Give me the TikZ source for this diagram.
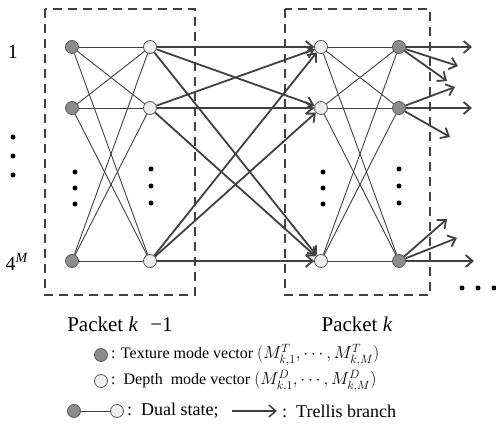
\documentclass[tikz,border=0pt]{standalone}
\usepackage{fontspec}
\setmainfont{Liberation Serif}
\usetikzlibrary{arrows.meta}
\begin{document}
\begin{tikzpicture}[x=1pt,y=-1pt,
  dnode/.style={circle,draw=black!65,fill=black!45,minimum size=13pt,inner sep=0pt,line width=0.8pt},
  lnode/.style={circle,draw=black!65,fill=black!7,minimum size=13pt,inner sep=0pt,line width=0.8pt},
  tedge/.style={draw=black!75,line width=0.9pt},
  bedge/.style={draw=black!75,line width=1.8pt,-{Straight Barb[length=7pt,width=12pt]}},
  pbox/.style={draw=black!75,dash pattern=on 9pt off 6pt,line width=1.5pt},
  vdot/.style={circle,fill=black,inner sep=0pt,minimum size=5pt},
  big/.style={font=\fontsize{20}{22}\selectfont},
  pk/.style={font=\fontsize{21}{23}\selectfont},
  leg/.style={font=\fontsize{16}{18}\selectfont,anchor=west,inner sep=0pt},
  legb/.style={font=\fontsize{18}{20}\selectfont,anchor=west,inner sep=0pt},
]
\useasboundingbox (0,0) rectangle (496,438);
% packet boxes
\draw[pbox] (45,9) rectangle (195,295);
\draw[pbox] (285,9) rectangle (430,295);
% states
\foreach \i/\y in {1/47,2/108,3/261}{
  \node[dnode] (a\i) at (72,\y) {};
  \node[lnode] (b\i) at (150,\y) {};
  \node[lnode] (c\i) at (321,\y) {};
  \node[dnode] (d\i) at (399,\y) {};
}
% branches
\foreach \i in {1,2,3}{
  \foreach \j in {1,2,3}{
    \draw[tedge] (a\i) -- (b\j);
    \draw[tedge] (c\i) -- (d\j);
    \draw[bedge] (b\i) -- (c\j);
  }
}
% outgoing branches
\coordinate (o11) at (472,47);
\coordinate (o12) at (458,66);
\coordinate (o13) at (447,81);
\coordinate (o21) at (455,87);
\coordinate (o22) at (472,108);
\coordinate (o23) at (450,137);
\coordinate (o31) at (447,219);
\coordinate (o32) at (457,238);
\coordinate (o33) at (474,261);
\foreach \i in {1,2,3}{
  \foreach \j in {1,2,3}{
    \draw[bedge] (d\i) -- (o\i\j);
  }
}
% vertical dots
\foreach \k/\y in {1/137,2/156,3/175}{ \node[vdot] (vl\k) at (13,\y) {}; }
\foreach \k/\y in {1/172,2/188,3/204}{ \node[vdot] (va\k) at (75,\y) {}; \node[vdot] (vc\k) at (323,\y) {}; }
\foreach \k/\y in {1/169,2/186,3/203}{ \node[vdot] (vb\k) at (151,\y) {}; \node[vdot] (vd\k) at (399,\y) {}; }
\foreach \k/\x in {1/462,2/478,3/494}{ \node[vdot] (hd\k) at (\x,288) {}; }
% row labels
\node[big] (r1) at (13,52) {1};
\node[big] (r4) at (17,262) {4\textsuperscript{\textit{M}}};
% packet labels
\node[pk] (p1) at (120,324) {Packet \textit{k}\,\, −1};
\node[pk] (p2) at (357,324) {Packet \textit{k}};
% legend
\node[dnode] (g1) at (101,355) {};
\node[leg] (t1) at (111,355) {: Texture mode vector \fontsize{18}{20}\selectfont$(M^T_{k,1},\cdots,M^T_{k,M})$};
\node[lnode] (g2) at (101,381) {};
\node[leg] (t2) at (111,381) {:\ \ Depth\ \ mode vector \fontsize{18}{20}\selectfont$(M^D_{k,1},\cdots,M^D_{k,M})$};
\node[dnode] (g3) at (74,411) {};
\node[lnode] (g4) at (117,411) {};
\draw[tedge] (g3) -- (g4);
\node[legb] (t3) at (127,411) {:\ \ Dual state;};
\coordinate (ar1) at (232,411);
\coordinate (ar2) at (277,411);
\draw[bedge,line width=1.5pt] (ar1) -- (ar2);
\node[legb] (t4) at (282,411) {:\ \ Trellis branch};
\end{tikzpicture}
\end{document}
